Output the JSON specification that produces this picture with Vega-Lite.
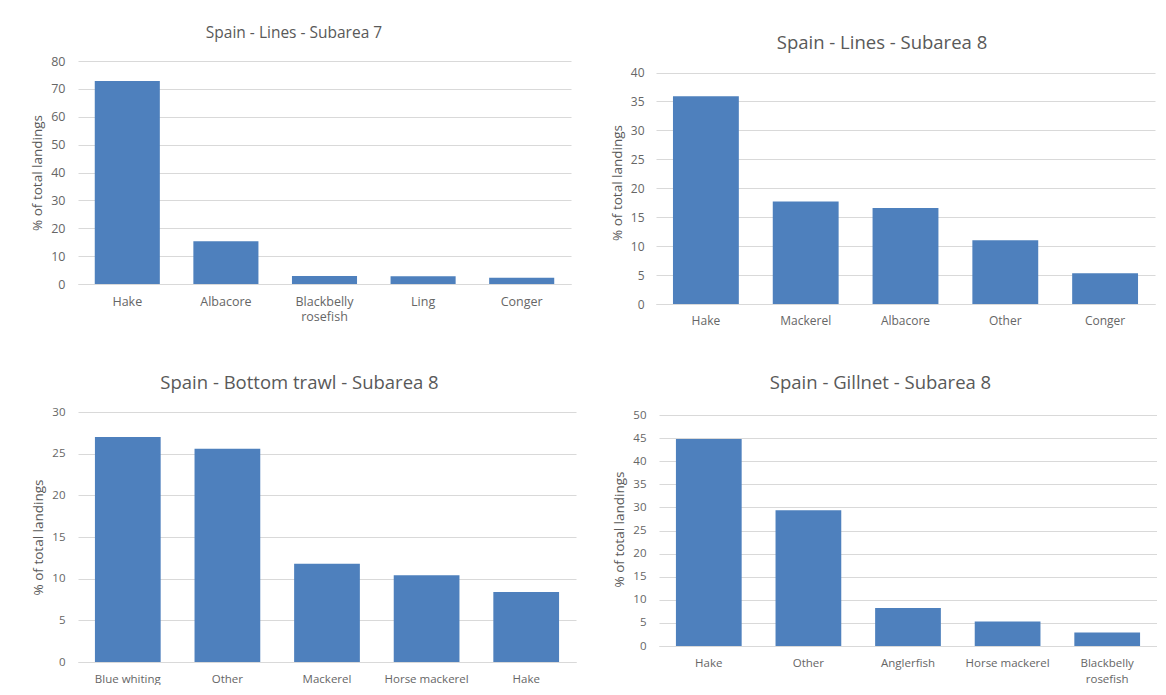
{
  "$schema": "https://vega.github.io/schema/vega-lite/v6.json",
  "background": "white",
  "padding": {"left": 30, "top": 25, "right": 0, "bottom": 0},
  "config": {
    "font": "Open Sans",
    "view": {"stroke": null},
    "axis": {"labelColor": "#666666", "titleColor": "#595959", "labelFont": "Open Sans", "titleFont": "Open Sans", "titleFontWeight": "normal", "gridColor": "#d9d9d9", "domainColor": "#d9d9d9", "ticks": false, "labelFontSize": 12, "titleFontSize": 13.5},
    "axisX": {"grid": false, "labelAngle": 0, "domain": true, "labelPadding": 11},
    "axisY": {"grid": true, "domain": false, "labelPadding": 13, "titlePadding": 6},
    "title": {"color": "#595959", "fontWeight": "normal", "font": "Open Sans", "anchor": "middle"},
    "bar": {"color": "#4e80bd"},
    "scale": {"bandPaddingInner": 0.34, "bandPaddingOuter": 0.17}
  },
  "data": {"values": [
    {"panel": "p1", "species": "Hake", "value": 72.8},
    {"panel": "p1", "species": "Albacore", "value": 15.3},
    {"panel": "p1", "species": "Blackbelly rosefish", "value": 2.9},
    {"panel": "p1", "species": "Ling", "value": 2.8},
    {"panel": "p1", "species": "Conger", "value": 2.2},
    {"panel": "p2", "species": "Hake", "value": 35.9},
    {"panel": "p2", "species": "Mackerel", "value": 17.7},
    {"panel": "p2", "species": "Albacore", "value": 16.6},
    {"panel": "p2", "species": "Other", "value": 11.0},
    {"panel": "p2", "species": "Conger", "value": 5.3},
    {"panel": "p3", "species": "Blue whiting", "value": 27.0},
    {"panel": "p3", "species": "Other", "value": 25.6},
    {"panel": "p3", "species": "Mackerel", "value": 11.8},
    {"panel": "p3", "species": "Horse mackerel", "value": 10.4},
    {"panel": "p3", "species": "Hake", "value": 8.4},
    {"panel": "p4", "species": "Hake", "value": 44.8},
    {"panel": "p4", "species": "Other", "value": 29.4},
    {"panel": "p4", "species": "Anglerfish", "value": 8.2},
    {"panel": "p4", "species": "Horse mackerel", "value": 5.3},
    {"panel": "p4", "species": "Blackbelly rosefish", "value": 2.9}
  ]},
  "spacing": 47,
  "vconcat": [
    {
      "spacing": 39,
      "hconcat": [
        {
          "title": {"text": "Spain - Lines - Subarea 7", "fontSize": 15.5, "offset": 14, "dx": -30.5},
          "width": 493, "height": 223,
          "transform": [{"filter": "datum.panel == 'p1'"}],
          "mark": "bar",
          "encoding": {
            "x": {"field": "species", "type": "nominal", "sort": null, "axis": {"title": null, "labelFontSize": 12.5, "labelLineHeight": 15, "labelExpr": "datum.label == 'Blackbelly rosefish' ? ['Blackbelly', 'rosefish'] : datum.label"}},
            "y": {"field": "value", "type": "quantitative", "scale": {"domain": [0, 80], "nice": false}, "axis": {"title": "% of total landings", "labelFontSize": 12.5, "values": [0, 10, 20, 30, 40, 50, 60, 70, 80]}}
          }
        },
        {
          "title": {"text": "Spain - Lines - Subarea 8", "fontSize": 18.5, "offset": 9, "dx": -23.5},
          "width": 499, "height": 243,
          "transform": [{"filter": "datum.panel == 'p2'"}],
          "mark": "bar",
          "encoding": {
            "x": {"field": "species", "type": "nominal", "sort": null, "axis": {"title": null}},
            "y": {"field": "value", "type": "quantitative", "scale": {"domain": [0, 42.0], "nice": false}, "axis": {"title": "% of total landings", "labelPadding": 12, "values": [0, 5, 10, 15, 20, 25, 30, 35, 40]}}
          }
        }
      ]
    },
    {
      "spacing": 36,
      "hconcat": [
        {
          "title": {"text": "Spain - Bottom trawl - Subarea 8", "fontSize": 18.5, "offset": 14, "dx": -27.5},
          "width": 498, "height": 250,
          "transform": [{"filter": "datum.panel == 'p3'"}],
          "mark": "bar",
          "encoding": {
            "x": {"field": "species", "type": "nominal", "sort": null, "axis": {"title": null, "labelFontSize": 11.5}},
            "y": {"field": "value", "type": "quantitative", "scale": {"domain": [0, 30], "nice": false}, "axis": {"title": "% of total landings", "labelFontSize": 11.5, "values": [0, 5, 10, 15, 20, 25, 30]}}
          }
        },
        {
          "title": {"text": "Spain - Gillnet - Subarea 8", "fontSize": 18.5, "offset": 17, "dx": -27.5},
          "width": 498, "height": 234,
          "transform": [{"filter": "datum.panel == 'p4'"}],
          "mark": "bar",
          "encoding": {
            "x": {"field": "species", "type": "nominal", "sort": null, "axis": {"title": null, "labelFontSize": 11.5, "labelLineHeight": 16, "labelExpr": "datum.label == 'Blackbelly rosefish' ? ['Blackbelly', 'rosefish'] : datum.label"}},
            "y": {"field": "value", "type": "quantitative", "scale": {"domain": [0, 50.65], "nice": false}, "axis": {"title": "% of total landings", "labelFontSize": 11.5, "values": [0, 5, 10, 15, 20, 25, 30, 35, 40, 45, 50]}}
          }
        }
      ]
    }
  ]
}
